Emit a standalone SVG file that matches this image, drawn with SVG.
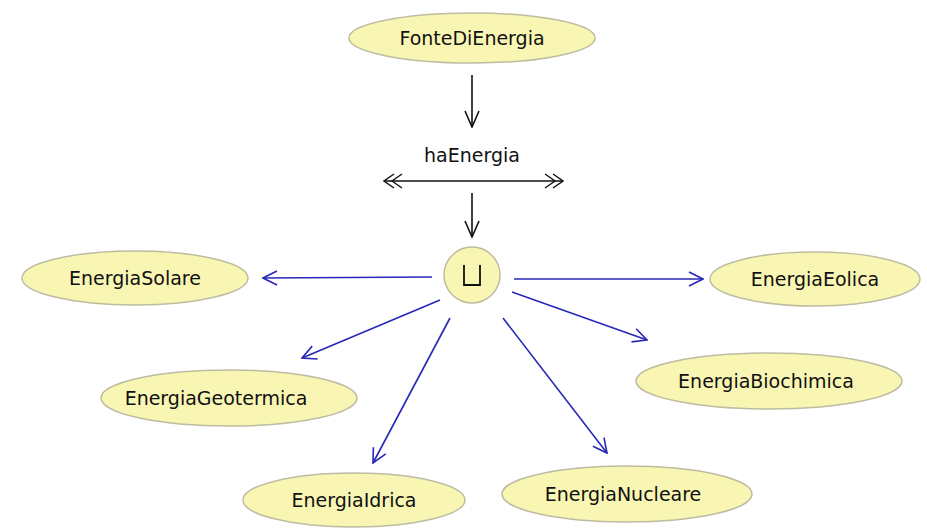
<svg xmlns="http://www.w3.org/2000/svg" width="927" height="529" viewBox="0 0 927 529">
<defs>
<style>
.node ellipse, .node circle { fill: #f9f6b4; stroke: #bdbca0; stroke-width: 1.5; }
.lbl { font-family: "DejaVu Sans", Verdana, sans-serif; font-size: 19px; fill: #111; text-anchor: middle; dominant-baseline: central; }
.blk { stroke: #111; stroke-width: 1.6; fill: none; }
.blu { stroke: #2828b8; stroke-width: 1.6; fill: none; }
</style>
<marker id="ab" viewBox="0 0 18 18" refX="17" refY="9" markerWidth="18" markerHeight="18" markerUnits="userSpaceOnUse" orient="auto">
<path d="M1,2 L17,9 L1,16" fill="none" stroke="#111" stroke-width="1.6"/>
</marker>
<marker id="au" viewBox="0 0 16 16" refX="15" refY="8" markerWidth="16" markerHeight="16" markerUnits="userSpaceOnUse" orient="auto">
<path d="M1,1 L15,8 L1,15" fill="none" stroke="#2828b8" stroke-width="1.6"/>
</marker>
<marker id="dd" viewBox="0 0 20 16" refX="19" refY="8" markerWidth="20" markerHeight="16" markerUnits="userSpaceOnUse" orient="auto-start-reverse">
<path d="M1,1 L11,8 L1,15 M9,1 L19,8 L9,15" fill="none" stroke="#111" stroke-width="1.4"/>
</marker>
</defs>
<rect width="927" height="529" fill="#fff"/>
<g id="connectors">
<line class="blk" x1="472" y1="75" x2="472" y2="127" marker-end="url(#ab)"/>
<line class="blk" x1="472" y1="193" x2="472" y2="237" marker-end="url(#ab)"/>
<line class="blu" x1="432" y1="277" x2="263" y2="278" marker-end="url(#au)"/>
<line class="blu" x1="514" y1="279" x2="703" y2="279" marker-end="url(#au)"/>
<line class="blu" x1="440" y1="300" x2="302" y2="358" marker-end="url(#au)"/>
<line class="blu" x1="512" y1="292" x2="647" y2="340" marker-end="url(#au)"/>
<line class="blu" x1="450" y1="318" x2="373" y2="463" marker-end="url(#au)"/>
<line class="blu" x1="503" y1="318" x2="607" y2="453" marker-end="url(#au)"/>
</g>
<g id="haEnergia">
<text class="lbl" x="472" y="155">haEnergia</text>
<line class="blk" x1="384" y1="181" x2="563" y2="181" marker-start="url(#dd)" marker-end="url(#dd)"/>
</g>
<g id="FonteDiEnergia" class="node">
<ellipse cx="472" cy="38" rx="123" ry="25"/>
<text class="lbl" x="472" y="38">FonteDiEnergia</text>
</g>
<g id="union" class="node">
<circle cx="472" cy="275" r="28"/>
<path d="M464,265 V285 H480 V265" fill="none" stroke="#111" stroke-width="1.8"/>
</g>
<g id="EnergiaSolare" class="node">
<ellipse cx="135" cy="278" rx="113" ry="27"/>
<text class="lbl" x="135" y="278">EnergiaSolare</text>
</g>
<g id="EnergiaEolica" class="node">
<ellipse cx="815" cy="279" rx="105" ry="27"/>
<text class="lbl" x="815" y="279">EnergiaEolica</text>
</g>
<g id="EnergiaGeotermica" class="node">
<ellipse cx="229" cy="398" rx="128" ry="28"/>
<text class="lbl" x="216" y="398">EnergiaGeotermica</text>
</g>
<g id="EnergiaBiochimica" class="node">
<ellipse cx="769" cy="381" rx="133" ry="28"/>
<text class="lbl" x="766" y="381">EnergiaBiochimica</text>
</g>
<g id="EnergiaIdrica" class="node">
<ellipse cx="354" cy="500" rx="111" ry="27"/>
<text class="lbl" x="354" y="500">EnergiaIdrica</text>
</g>
<g id="EnergiaNucleare" class="node">
<ellipse cx="627" cy="494" rx="125" ry="28"/>
<text class="lbl" x="623" y="494">EnergiaNucleare</text>
</g>
</svg>
